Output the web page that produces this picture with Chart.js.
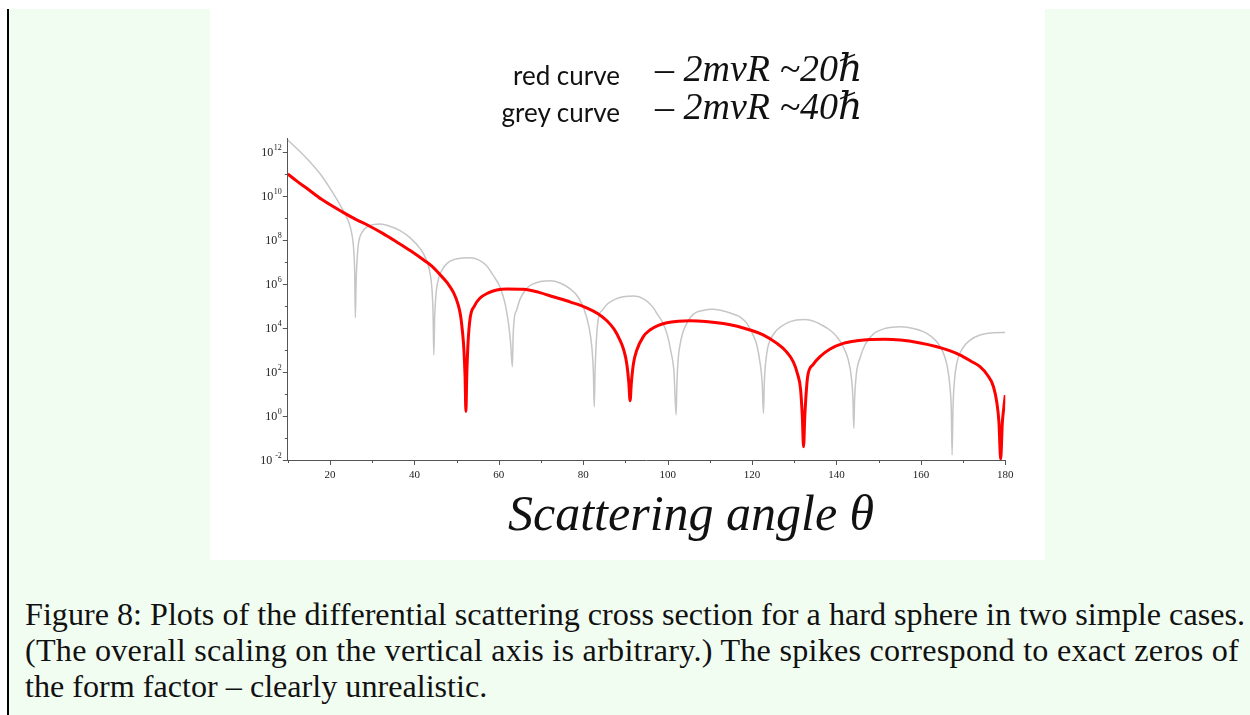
<!DOCTYPE html>
<html>
<head>
<meta charset="utf-8">
<script src="https://cdn.jsdelivr.net/npm/chart.js@4.4.1/dist/chart.umd.min.js"></script>
<style>
  body { margin:0; background:#fff; width:1250px; height:715px; overflow:hidden; position:relative; }
  #box { position:absolute; left:7px; top:9px; width:1243px; height:706px; background:#f1fdf1; border-left:2px solid #000; }
  #panel { position:absolute; left:210px; top:9px; width:835px; height:551px; background:#fff; }
  #panel canvas { position:absolute; left:0; top:0; }
  .hand { position:absolute; color:#111; white-space:nowrap; }
  .lab { font-family:Lato, "Open Sans", sans-serif; font-size:26px; }
  .math { font-family:"Liberation Serif", "DejaVu Serif", serif; font-style:italic; font-size:38px; }
  .cap { position:absolute; left:25px; font-family:"Liberation Serif", "DejaVu Serif", serif; color:#111; white-space:nowrap; font-size:30px; }
</style>
</head>
<body>
<div id="box"></div>
<div id="panel"><canvas id="plot" width="835" height="551"></canvas></div>

<div class="hand lab" style="right:630px; top:59px;">red curve</div>
<div class="hand lab" style="right:630px; top:96px;">grey curve</div>
<div class="hand math" style="left:655px; top:46px;">– 2mvR ~20ℏ</div>
<div class="hand math" style="left:655px; top:84px;">– 2mvR ~40ℏ</div>
<div class="hand math" style="left:508px; top:484px; font-size:50px;">Scattering angle θ</div>

<div class="cap" id="cap1" style="top:596px;">Figure 8: Plots of the differential scattering cross section for a hard sphere in two simple cases.</div>
<div class="cap" id="cap2" style="top:632px;">(The overall scaling on the vertical axis is arbitrary.) The spikes correspond to exact zeros of</div>
<div class="cap" id="cap3" style="top:668px;">the form factor – clearly unrealistic.</div>

<script>
// red curve (2mvR ~ 20 hbar)
var redAngle = [10, 12, 14.5, 18, 22.8, 26, 29.2, 32.5, 35.9, 39, 42.2, 44.2, 46.1, 47.8, 49.3, 50.3, 50.9, 51.4, 51.7, 52.0, 52.2, 52.4, 52.7, 53.2, 54.2, 55.5, 57.5, 59.5, 62, 65.8, 69.5, 72.9, 77, 80.8, 83.5, 85.6, 87.3, 88.7, 89.6, 90.3, 90.8, 91.1, 91.4, 91.9, 92.7, 94.2, 95.8, 97.8, 99.8, 102.5, 105.3, 109, 113.2, 116.5, 119.5, 122.5, 125.9, 128, 129.8, 130.8, 131.5, 131.9, 132.2, 132.5, 133.0, 133.3, 134.5, 136.1, 138.5, 141.6, 144.8, 148.0, 151.5, 155.1, 159.5, 163.8, 166.8, 169.3, 171.8, 174.0, 175.8, 177.2, 178.0, 178.5, 178.9, 179.3, 179.6, 180];
var redValue = [1.0e11, 5.0e10, 2.24e10, 7.08e9, 1.95e9, 8.91e8, 4.47e8, 2.0e8, 7.94e7, 3.31e7, 1.23e7, 6.31e6, 2.63e6, 1.12e6, 3.98e5, 1.26e5, 3.98e4, 6.31e3, 1.26e3, 63, 1.6, 63, 2.0e3, 2.82e4, 1.0e5, 2.24e5, 3.98e5, 5.37e5, 5.89e5, 5.75e5, 4.17e5, 2.63e5, 1.51e5, 8.32e4, 4.47e4, 2.14e4, 8.91e3, 2.82e3, 1.0e3, 245, 32, 5.0, 32, 245, 1.0e3, 3.98e3, 8.13e3, 1.32e4, 1.74e4, 2.04e4, 2.14e4, 2.0e4, 1.62e4, 1.2e4, 8.13e3, 5.01e3, 2.0e3, 891, 282, 79, 16, 1.0, 0.04, 1.0, 31.6, 87.1, 224, 501, 1.12e3, 2.0e3, 2.63e3, 3.02e3, 3.09e3, 2.82e3, 2.14e3, 1.41e3, 933, 589, 316, 174, 71, 21.4, 4.0, 0.5, 0.011, 0.5, 2.0, 8.9];

// grey curve (2mvR ~ 40 hbar)
var greyAngle = [10, 13, 15.5, 17.7, 20, 22.4, 24.4, 25.2, 25.6, 25.85, 26.0, 26.2, 26.5, 26.8, 27.6, 28.8, 30.2, 31.9, 34, 36.7, 39, 41.4, 42.6, 43.6, 44.1, 44.4, 44.6, 44.8, 45.1, 45.8, 46.6, 47.8, 49.5, 51.3, 53.2, 55.2, 57, 58.7, 60.2, 61.5, 62.3, 62.8, 63.2, 63.4, 63.7, 64.2, 65.0, 66.6, 68.3, 70.2, 72.2, 74.5, 76.9, 78.8, 80.2, 81.3, 82.0, 82.4, 82.6, 82.8, 83.1, 83.6, 84.5, 85.8, 87.5, 89.5, 92, 94.5, 96.5, 97.4, 98.8, 99.9, 100.8, 101.5, 102.0, 102.2, 102.5, 102.9, 103.6, 104.8, 106.1, 108.3, 110.8, 113.5, 116, 117.2, 118.8, 120.2, 121.1, 121.9, 122.4, 122.7, 122.9, 123.2, 123.7, 124.3, 125.8, 128.2, 130.5, 132.5, 135, 136.1, 138.5, 140.1, 141.6, 142.8, 143.5, 143.9, 144.1, 144.3, 144.7, 145.6, 146.8, 148.7, 151.5, 155.1, 158.5, 161.4, 163.4, 165.0, 166.2, 166.9, 167.2, 167.4, 167.6, 167.9, 168.5, 169.8, 171.7, 174.0, 177.2, 180];
var greyValue = [3.55e12, 1.0e12, 3.16e11, 1.0e11, 2.24e10, 3.89e9, 6.76e8, 1.78e8, 3.98e7, 3.16e6, 2.95e4, 1.58e6, 2.24e7, 8.32e7, 2.24e8, 3.98e8, 5.01e8, 5.37e8, 4.37e8, 2.63e8, 1.26e8, 3.98e7, 1.58e7, 3.98e6, 7.94e5, 6.31e4, 589, 3.16e4, 3.16e5, 2.0e6, 4.47e6, 8.91e6, 1.32e7, 1.51e7, 1.58e7, 1.26e7, 7.08e6, 2.4e6, 7.94e5, 1.26e5, 1.58e4, 2.0e3, 174, 5.01e3, 3.16e4, 6.31e4, 2.0e5, 6.31e5, 1.05e6, 1.35e6, 1.41e6, 1.12e6, 6.03e5, 2.51e5, 7.08e4, 1.26e4, 1.58e3, 100, 2.63, 100, 2.51e3, 2.82e4, 6.31e4, 1.26e5, 2.0e5, 2.63e5, 2.82e5, 2.0e5, 8.91e4, 4.79e4, 1.78e4, 5.01e3, 794, 100, 1.12, 31.6, 398, 1.58e3, 6.31e3, 2.0e4, 4.27e4, 6.31e4, 7.08e4, 5.75e4, 3.98e4, 3.16e4, 1.58e4, 5.01e3, 1.78e3, 251, 31.6, 1.32, 31.6, 251, 1.26e3, 2.82e3, 7.94e3, 1.66e4, 2.29e4, 2.45e4, 1.91e4, 1.51e4, 7.94e3, 3.98e3, 1.41e3, 355, 63, 6.3, 0.275, 6.3, 79, 447, 1.78e3, 5.25e3, 9.55e3, 1.15e4, 9.33e3, 5.75e3, 2.82e3, 1.0e3, 200, 20, 2.0, 0.017, 2.0, 31.6, 245, 1.12e3, 2.82e3, 4.79e3, 6.17e3, 6.31e3];

// axes
var xTicks = [10, 20, 30, 40, 50, 60, 70, 80, 90, 100, 110, 120, 130, 140, 150, 160, 170, 180];
var xLabels = [20, 40, 60, 80, 100, 120, 140, 160, 180];
var yPowers = [-2, -1, 0, 1, 2, 3, 4, 5, 6, 7, 8, 9, 10, 11, 12];
var yLabelPowers = ['-2', '0', '2', '4', '6', '8', '10', '12'];

function toPoints(xs, ys){
	var pts = [];
	for(var i=0; i<xs.length; i++){
		pts.push({x: xs[i], y: ys[i]});
	}
	return pts;
}

// tick marks and 10^n labels, drawn with the chart's own scales
var axisDeco = {
	id: 'axisDeco',
	afterDraw: function(chart){
		var ctx = chart.ctx;
		var xs = chart.scales.x, ys = chart.scales.y;
		var axisY = chart.chartArea.bottom, axisX = chart.chartArea.left;
		ctx.save();
		ctx.strokeStyle = '#555';
		ctx.lineWidth = 1;
		xTicks.forEach(function(v){
			var px = Math.round(xs.getPixelForValue(v)) + 0.5;
			var len = (xLabels.indexOf(v) >= 0) ? 5 : 3;
			ctx.beginPath(); ctx.moveTo(px, axisY); ctx.lineTo(px, axisY + len); ctx.stroke();
		});
		yPowers.forEach(function(p){
			var py = Math.round(ys.getPixelForValue(Math.pow(10, p))) + 0.5;
			var len = (p % 2 === 0) ? 5 : 3;
			ctx.beginPath(); ctx.moveTo(axisX - len, py); ctx.lineTo(axisX, py); ctx.stroke();
		});
		ctx.fillStyle = '#222';
		ctx.textBaseline = 'middle';
		yLabelPowers.forEach(function(p){
			var py = ys.getPixelForValue(Math.pow(10, Number(p)));
			var right = axisX - 6;
			ctx.font = '8px "Liberation Serif", serif';
			var ew = ctx.measureText(p).width;
			ctx.textAlign = 'left';
			ctx.fillText(p, right - ew, py - 4);
			ctx.font = '12px "Liberation Serif", serif';
			ctx.textAlign = 'right';
			ctx.fillText('10', right - ew - (p === '-2' ? 3 : 0.5), py + 1);
		});
		ctx.restore();
	}
};

var chart = new Chart(document.getElementById('plot').getContext('2d'), {
	type: 'line',
	data: {
		datasets: [
			{
				label: 'red curve',
				data: toPoints(redAngle, redValue),
				borderColor: '#ff0000',
				borderWidth: 3,
				pointRadius: 0,
				cubicInterpolationMode: 'monotone',
				fill: false
			},
			{
				label: 'grey curve',
				data: toPoints(greyAngle, greyValue),
				borderColor: '#c6c6c6',
				borderWidth: 1.5,
				pointRadius: 0,
				cubicInterpolationMode: 'monotone',
				fill: false
			}
		]
	},
	options: {
		responsive: false,
		animation: false,
		events: [],
		layout: { padding: { left: 0, right: 39.7, top: 129.8, bottom: 0 } },
		plugins: { legend: { display: false }, tooltip: { enabled: false } },
		scales: {
			x: {
				type: 'linear',
				min: 10, max: 180,
				afterBuildTicks: function(scale){
					scale.ticks = xTicks.map(function(v){ return {value: v}; });
				},
				afterFit: function(scale){ scale.height = 100; },
				ticks: {
					autoSkip: false,
					maxRotation: 0,
					padding: 9,
					color: '#222',
					font: { family: '"Liberation Serif", serif', size: 11 },
					callback: function(v){ return xLabels.indexOf(v) >= 0 ? String(v) : ''; }
				},
				grid: { display: false, drawTicks: false },
				border: { display: true, color: '#555', width: 1 }
			},
			y: {
				type: 'logarithmic',
				min: 0.01, max: 4e12,
				afterBuildTicks: function(scale){
					scale.ticks = yPowers.map(function(p){ return {value: Math.pow(10, p)}; });
				},
				afterFit: function(scale){ scale.width = 77.8; },
				ticks: { display: false },
				grid: { display: false, drawTicks: false },
				border: { display: true, color: '#555', width: 1 }
			}
		}
	},
	plugins: [axisDeco]
});

// size the caption so its first line spans the printed width
(function(){
	var targets = { cap1: 1220, cap2: 1214 };
	var c1 = document.getElementById('cap1');
	var size = 30 * 1220 / c1.getBoundingClientRect().width;
	['cap1', 'cap2', 'cap3'].forEach(function(id){
		document.getElementById(id).style.fontSize = size + 'px';
	});
	Object.keys(targets).forEach(function(id){
		var el = document.getElementById(id);
		var w = el.getBoundingClientRect().width;
		el.style.letterSpacing = ((targets[id] - w) / el.textContent.length) + 'px';
	});
})();
</script>
</body>
</html>
